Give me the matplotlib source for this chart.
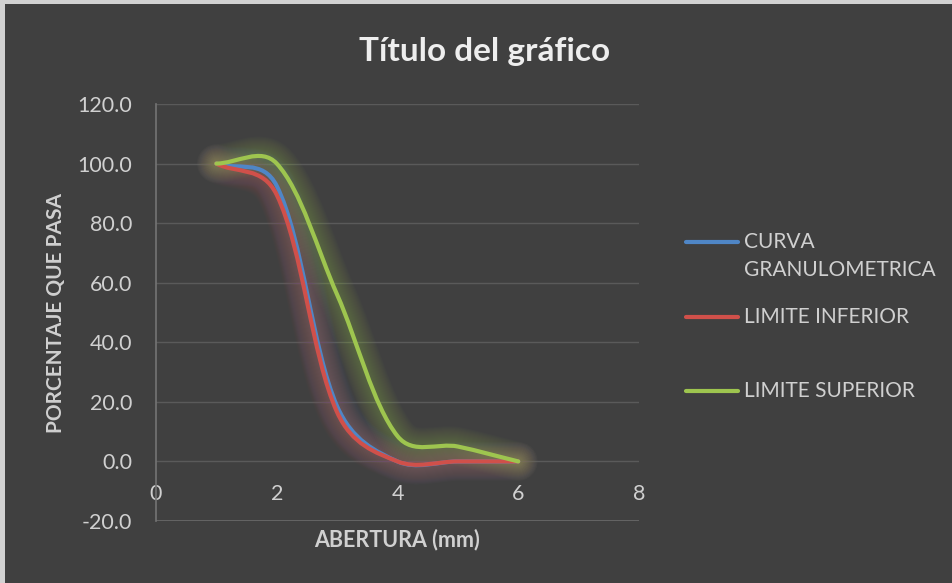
import numpy as np
import matplotlib
matplotlib.use("Agg")
import matplotlib.pyplot as plt
from matplotlib.path import Path
from matplotlib.patches import PathPatch, Rectangle
from matplotlib.lines import Line2D

plt.rcParams['font.family'] = ['Lato', 'DejaVu Sans']

# Datos de la granulometria
abertura = [1, 2, 3, 4, 5, 6]
curva_granulometrica = [100, 92.5, 18.5, 0, 0, 0]
limite_inferior = [100, 89.5, 16.5, 0, 0, 0]
limite_superior = [100, 100, 56, 8.5, 5, 0]

series = ["CURVA\nGRANULOMETRICA", "LIMITE INFERIOR", "LIMITE SUPERIOR"]
colores = ['#4f86c6', '#d0504a', '#9ec54f']

yticks = [-20, 0, 20, 40, 60, 80, 100, 120]
xticks = [0, 2, 4, 6, 8]

bg = '#404040'
texto = '#d0d0d0'
W, H = 953, 583

fig = plt.figure(figsize=(W / 100, H / 100), dpi=100, facecolor='#d2d2d2')
fig.add_artist(Rectangle((5 / W, 0), 1, 1 - 4 / H, transform=fig.transFigure,
                         facecolor=bg, edgecolor='none', zorder=0))

ax = fig.add_axes([156 / W, 62 / H, 483 / W, 417 / H])
ax.set_facecolor(bg)
ax.set_xlim(0, 8)
ax.set_ylim(-20, 120)


def linea_suavizada(ax, xs, ys):
    # curva bezier a traves de los puntos, como la linea suavizada de Excel
    pts = np.column_stack([xs, ys]).astype(float)
    disp = ax.transData.transform(pts)
    n = len(pts)
    verts = [pts[0]]
    codes = [Path.MOVETO]
    for i in range(n - 1):
        i0 = max(i - 1, 0)
        i3 = min(i + 2, n - 1)
        d01 = np.hypot(*(disp[i] - disp[i0])) ** 0.5
        d12 = np.hypot(*(disp[i + 1] - disp[i])) ** 0.5
        d23 = np.hypot(*(disp[i3] - disp[i + 1])) ** 0.5
        c1 = pts[i] + (pts[i + 1] - pts[i0]) / 3 * d12 / (d01 + d12)
        c2 = pts[i + 1] - (pts[i3] - pts[i]) / 3 * d12 / (d12 + d23)
        verts += [c1, c2, pts[i + 1]]
        codes += [Path.CURVE4] * 3
    return Path(verts, codes)


datos = [curva_granulometrica, limite_inferior, limite_superior]

# resplandor suave alrededor de las lineas
for ys, c in zip(datos, colores):
    p = linea_suavizada(ax, abertura, ys)
    for lw in np.arange(28, 5, -1.5):
        ax.add_patch(PathPatch(p, fill=False, edgecolor=c, lw=lw, alpha=0.022,
                               capstyle='round', joinstyle='round', zorder=2))

for ys, c in zip(datos, colores):
    p = linea_suavizada(ax, abertura, ys)
    ax.add_patch(PathPatch(p, fill=False, edgecolor=c, lw=3,
                           capstyle='round', joinstyle='round', zorder=3))

# ejes y cuadricula
ax.set_yticks(yticks)
ax.set_yticklabels([f"{v:.1f}" for v in yticks])
ax.set_xticks(xticks)
ax.grid(axis='y', color='#5a5a5a', lw=1)
ax.grid(axis='x', visible=False)
ax.set_axisbelow(True)
for s in ['top', 'right']:
    ax.spines[s].set_visible(False)
ax.spines['left'].set_color('#747474')
ax.spines['left'].set_linewidth(1.2)
ax.spines['bottom'].set_position(('data', 0))
ax.spines['bottom'].set_visible(False)
ax.tick_params(axis='y', length=0, pad=17, labelsize=15.5, labelcolor=texto)
ax.tick_params(axis='x', length=0, pad=16, labelsize=15.5, labelcolor=texto)
ax.axhline(-20, color='#6a6a6a', lw=1.2, zorder=1)

ax.set_xlabel("ABERTURA (mm)", fontsize=15.5, fontweight='bold', color=texto, va='center')
ax.xaxis.set_label_coords(0.5, (H - 540 - 62) / 417)
ax.set_ylabel("PORCENTAJE QUE PASA", fontsize=15, fontweight='bold', color=texto, va='center')
ax.yaxis.set_label_coords((56 - 156) / 483, (H - 313 - 62) / 417)

fig.text(485 / W, 1 - 51 / H, "Título del gráfico", fontsize=24, fontweight='bold',
         color='#eeeeee', ha='center', va='center')

# leyenda
ley_y = [242, 317, 391]
for nombre, c, yy in zip(series, colores, ley_y):
    fig.add_artist(Line2D([686 / W, 738 / W], [1 - yy / H] * 2, color=c, lw=3,
                          solid_capstyle='round', transform=fig.transFigure))
    lineas = nombre.split("\n")
    for k, t in enumerate(lineas):
        fig.text(744 / W, 1 - (yy + 28 * k) / H, t, fontsize=15, color=texto,
                 ha='left', va='center')

fig.savefig("out.png", dpi=100, facecolor=fig.get_facecolor())
